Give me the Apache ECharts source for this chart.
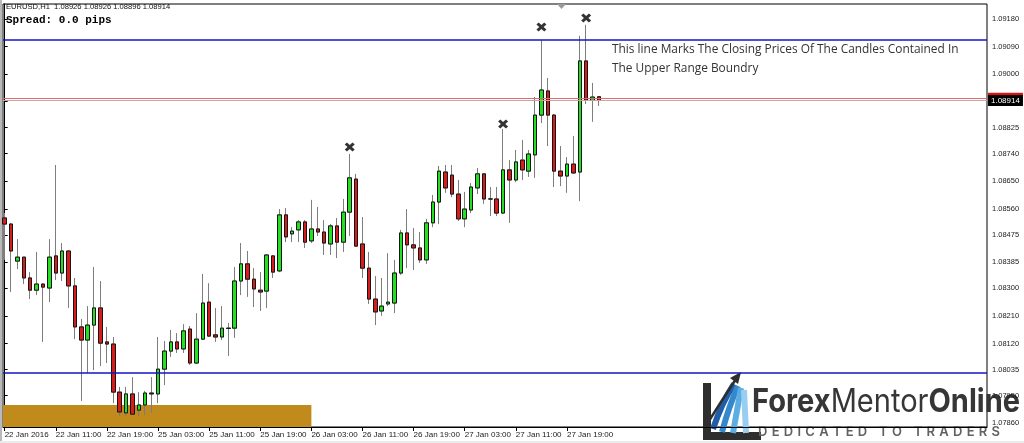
<!DOCTYPE html>
<html>
<head>
<meta charset="utf-8">
<script src="https://cdn.jsdelivr.net/npm/echarts@6/dist/echarts.min.js"></script>
<style>
html,body{margin:0;padding:0;background:#fff;overflow:hidden}
#chart{width:1024px;height:443px}
</style>
</head>
<body>
<div id="chart"></div>
<script>
// EURUSD H1, 22 Jan 2016 03:00 -> 28 Jan 2016 00:00 (94 hourly bars)
const symbolName = 'EURUSD,H1';
const spreadText = 'Spread: 0.0 pips';

const opens = [
  1.08530,1.08510,1.08389,1.08402,1.08334,1.08294,1.08314,1.08301,1.08406,1.08350,
  1.08422,1.08308,1.08174,1.08131,1.08180,1.08236,1.08125,1.08118,1.07961,1.07893,
  1.07955,1.07902,1.07919,1.07958,1.07955,1.08036,1.08095,1.08125,1.08102,1.08167,
  1.08056,1.08134,1.08255,1.08148,1.08141,1.08170,1.08170,1.08324,1.08380,1.08330,
  1.08294,1.08291,1.08406,1.08357,1.08540,1.08478,1.08491,1.08517,1.08455,1.08494,
  1.08484,1.08445,1.08504,1.08451,1.08549,1.08657,1.08445,1.08366,1.08265,1.08226,
  1.08249,1.08252,1.08350,1.08481,1.08442,1.08432,1.08393,1.08514,1.08582,1.08680,
  1.08670,1.08608,1.08527,1.08556,1.08628,1.08674,1.08592,1.08592,1.08546,1.08687,
  1.08654,1.08719,1.08683,1.08736,1.08866,1.08945,1.08866,1.08683,1.08667,1.08706,
  1.08680,1.09043,1.08914,1.08926
];
const closes = [
  1.08510,1.08422,1.08402,1.08334,1.08294,1.08314,1.08304,1.08402,1.08350,1.08422,
  1.08308,1.08174,1.08131,1.08180,1.08236,1.08121,1.08118,1.07961,1.07896,1.07955,
  1.07889,1.07919,1.07958,1.07955,1.08036,1.08095,1.08125,1.08102,1.08161,1.08056,
  1.08134,1.08252,1.08144,1.08141,1.08170,1.08169,1.08324,1.08380,1.08330,1.08298,
  1.08288,1.08409,1.08353,1.08540,1.08468,1.08487,1.08517,1.08451,1.08494,1.08484,
  1.08448,1.08504,1.08451,1.08549,1.08661,1.08438,1.08366,1.08265,1.08223,1.08242,
  1.08255,1.08350,1.08481,1.08442,1.08432,1.08393,1.08514,1.08582,1.08683,1.08628,
  1.08608,1.08527,1.08559,1.08631,1.08674,1.08592,1.08592,1.08546,1.08687,1.08654,
  1.08713,1.08687,1.08739,1.08866,1.08948,1.08866,1.08683,1.08667,1.08706,1.08677,
  1.09043,1.08915,1.08925,1.08914
];
const lows = [
  1.08393,1.08288,1.08363,1.08314,1.08265,1.08278,1.08125,1.08255,1.08327,1.08324,
  1.08236,1.08134,1.07932,1.08023,1.08033,1.08046,1.08056,1.07925,1.07883,1.07883,
  1.07886,1.07883,1.07886,1.07893,1.07925,1.07984,1.08076,1.08089,1.08089,1.08050,
  1.08053,1.08131,1.08141,1.08125,1.08131,1.08079,1.08138,1.08278,1.08272,1.08239,
  1.08226,1.08236,1.08334,1.08353,1.08451,1.08451,1.08451,1.08432,1.08448,1.08471,
  1.08409,1.08409,1.08399,1.08419,1.08471,1.08435,1.08334,1.08249,1.08180,1.08210,
  1.08242,1.08219,1.08344,1.08366,1.08360,1.08383,1.08380,1.08500,1.08510,1.08612,
  1.08598,1.08520,1.08500,1.08546,1.08608,1.08576,1.08536,1.08536,1.08543,1.08514,
  1.08647,1.08654,1.08664,1.08661,1.08840,1.08765,1.08631,1.08634,1.08612,1.08674,
  1.08585,1.08902,1.08844,1.08896
];
const highs = [
  1.08546,1.08514,1.08461,1.08402,1.08353,1.08419,1.08317,1.08461,1.08703,1.08448,
  1.08425,1.08334,1.08200,1.08242,1.08370,1.08324,1.08174,1.08141,1.07978,1.07978,
  1.08010,1.07961,1.07965,1.08010,1.08141,1.08128,1.08164,1.08154,1.08183,1.08177,
  1.08219,1.08347,1.08317,1.08236,1.08242,1.08187,1.08370,1.08448,1.08422,1.08366,
  1.08353,1.08412,1.08409,1.08559,1.08562,1.08500,1.08523,1.08523,1.08589,1.08566,
  1.08523,1.08510,1.08530,1.08592,1.08739,1.08674,1.08533,1.08419,1.08340,1.08334,
  1.08415,1.08393,1.08491,1.08559,1.08497,1.08484,1.08527,1.08605,1.08700,1.08703,
  1.08703,1.08654,1.08615,1.08644,1.08693,1.08674,1.08631,1.08631,1.08821,1.08719,
  1.08752,1.08785,1.08752,1.08925,1.09111,1.08987,1.08870,1.08765,1.08729,1.08798,
  1.09125,1.09161,1.08971,1.08926
];

// time axis labels (bar index -> label)
const timeTickBars = [0, 8, 16, 24, 32, 40, 48, 56, 64, 72, 80, 88];
const timeTickLabels = ['22 Jan 2016', '22 Jan 11:00', '22 Jan 19:00', '25 Jan 03:00', '25 Jan 11:00',
  '25 Jan 19:00', '26 Jan 03:00', '26 Jan 11:00', '26 Jan 19:00', '27 Jan 03:00', '27 Jan 11:00', '27 Jan 19:00'];

// price scale labels
const priceTicks = [1.09180, 1.09090, 1.09000, 1.08910, 1.08825, 1.08740, 1.08650, 1.08560,
  1.08475, 1.08385, 1.08300, 1.08210, 1.08120, 1.08035, 1.07950, 1.07860];

// drawn objects
const upperBoundary = 1.09111;
const lowerBoundary = 1.08023;
const bidPrice = 1.08914;
const askPrice = 1.08921;
const swingBars = [54, 78, 84, 91];
const swingMarkPrices = [1.08762, 1.08837, 1.09154, 1.09183];
const zoneTop = 1.07919;
const zoneEndBar = 48;
const noteLines = ['This line Marks The Closing Prices Of The Candles Contained In', 'The Upper Range Boundry'];

const xMin = -0.26, xMax = 153.73;
const yMin = 1.07847, yMax = 1.09229;

const last = opens.length - 1;
const headerText = symbolName + '  ' + [opens[last], highs[last], lows[last], closes[last]].map(v => v.toFixed(5)).join(' ');

const wickRows = opens.map((o, i) => [i, o, closes[i], lows[i], highs[i]]);
const bodyRows = opens.map((o, i) => [i, o, closes[i], Math.min(o, closes[i]), Math.max(o, closes[i])]);
const markRows = swingBars.map((b, i) => [b, swingMarkPrices[i]]);

const UP = '#23e023', DOWN = '#d81c1c';
const axisFont = 'Liberation Sans';

// logo text helpers
const mc = document.createElement('canvas').getContext('2d');
function tw(str, font) { mc.font = font; return mc.measureText(str).width; }

function curve(x1, y1, cx, cy, x2, y2, color, w) {
  return { type: 'bezierCurve', shape: { x1: x1, y1: y1, cpx1: cx, cpy1: cy, x2: x2, y2: y2 },
    style: { stroke: color, lineWidth: w, fill: null } };
}

function buildLogo() {
  const els = [];
  // L-shaped frame
  els.push({ type: 'rect', shape: { x: 703, y: 383, width: 8, height: 57 }, style: { fill: '#2e2e2e' } });
  els.push({ type: 'rect', shape: { x: 703, y: 432, width: 58, height: 8 }, style: { fill: '#2e2e2e' } });
  // blue ribbon bands
  els.push(curve(713, 429, 722, 402, 734, 384, '#1f5ea6', 6));
  els.push(curve(722, 432, 729, 406, 738, 386, '#3489cc', 6));
  els.push(curve(733, 433, 737, 410, 741, 388, '#5aaee3', 6));
  els.push(curve(746, 433, 745, 412, 744, 390, '#98cff0', 6));
  // arrow
  els.push(curve(707, 424, 722, 400, 736, 379, '#2e2e2e', 2.5));
  els.push({ type: 'polygon', shape: { points: [[741, 372], [738, 384], [730, 378]] }, style: { fill: '#2e2e2e' } });

  // word mark
  const size = 32;
  const fBold = 'bold ' + size + 'px Inter', fReg = size + 'px Inter';
  const parts = [['Forex', fBold], ['Mentor', fReg], ['Online', fBold]];
  const total = parts.reduce((s, p) => s + tw(p[0], p[1]), 0);
  const sx = 268 / total;
  let cx = 0;
  const word = [];
  parts.forEach(p => {
    word.push({ type: 'text', x: cx, y: 0, style: { text: p[0], font: p[1], fill: '#363636', verticalAlign: 'middle' } });
    cx += tw(p[0], p[1]);
  });
  els.push({ type: 'group', x: 752, y: 402, scaleX: sx, scaleY: 1, children: word });

  // tagline, letter-spaced
  const tag = 'DEDICATED TO TRADERS';
  const tf = '600 13px Inter';
  const chars = tag.split('');
  const natural = chars.reduce((s, c) => s + tw(c, tf), 0);
  const gap = (242 - natural) / (chars.length - 1);
  let tx = 758;
  chars.forEach(c => {
    els.push({ type: 'text', x: tx, y: 432, style: { text: c, font: tf, fill: '#626262', verticalAlign: 'middle' } });
    tx += tw(c, tf) + gap;
  });
  return els;
}

const chart = echarts.init(document.getElementById('chart'), null, { renderer: 'canvas' });
chart.setOption({
  animation: false,
  backgroundColor: '#ffffff',
  grid: { left: 3, right: 37, top: 4, bottom: 16, show: true, borderColor: '#000', borderWidth: 1, backgroundColor: 'transparent' },
  xAxis: {
    type: 'value', min: xMin, max: xMax,
    splitLine: { show: false },
    axisLine: { show: true, lineStyle: { color: '#000', width: 1 } },
    axisTick: { show: true, customValues: timeTickBars, length: 4, lineStyle: { color: '#000' } },
    axisLabel: {
      customValues: timeTickBars, align: 'left', margin: 4, padding: [0, 0, 0, 0],
      fontFamily: axisFont, fontSize: 8, color: '#1a1a1a',
      formatter: v => timeTickLabels[timeTickBars.indexOf(Math.round(v))] || ''
    }
  },
  yAxis: {
    type: 'value', position: 'right', min: yMin, max: yMax, scale: true,
    splitLine: { show: false },
    axisLine: { show: true, lineStyle: { color: '#000', width: 1 } },
    axisTick: { show: true, customValues: priceTicks, length: 3, lineStyle: { color: '#000' } },
    axisLabel: {
      customValues: priceTicks, margin: 5, fontFamily: axisFont, fontSize: 7.5, color: '#1a1a1a',
      formatter: v => v.toFixed(5)
    }
  },
  series: [
    {
      // support zone rectangle, drawn under the candles
      type: 'line', data: [], z: 1, silent: true,
      markArea: {
        silent: true, precision: 5,
        itemStyle: { color: '#c08b1c', opacity: 1 },
        data: [[{ xAxis: xMin, yAxis: zoneTop }, { xAxis: zoneEndBar, yAxis: yMin }]]
      }
    },
    {
      // wicks
      type: 'candlestick', z: 2, barWidth: 4, encode: { x: 0, y: [1, 2, 3, 4] },
      data: wickRows,
      itemStyle: { color: UP, color0: DOWN, borderColor: '#7d7d7d', borderColor0: '#7d7d7d', borderWidth: 1 }
    },
    {
      // bodies with dark outline
      type: 'candlestick', z: 3, barWidth: 4, encode: { x: 0, y: [1, 2, 3, 4] },
      data: bodyRows,
      itemStyle: { color: UP, color0: DOWN, borderColor: '#151515', borderColor0: '#151515', borderWidth: 1 }
    },
    {
      // swing high crosses
      type: 'scatter', z: 4, data: markRows,
      symbol: 'path://M0,2.2 L2.2,0 L5,2.8 L7.8,0 L10,2.2 L7.2,5 L10,7.8 L7.8,10 L5,7.2 L2.2,10 L0,7.8 L2.8,5 Z',
      symbolSize: [10, 9],
      itemStyle: { color: '#000' }
    },
    {
      // horizontal levels and price markers
      type: 'line', data: [], z: 5, silent: true,
      markLine: {
        silent: true, symbol: ['none', 'none'], animation: false, precision: 5,
        data: [
          { yAxis: upperBoundary, lineStyle: { color: '#1414c8', width: 1.6, type: 'solid' }, label: { show: false } },
          { yAxis: lowerBoundary, lineStyle: { color: '#1414c8', width: 1.6, type: 'solid' }, label: { show: false } },
          { yAxis: askPrice, lineStyle: { color: '#e26a6a', width: 1, type: 'solid' },
            label: { show: true, position: 'end', distance: 1, formatter: askPrice.toFixed(5), backgroundColor: '#e01010', color: '#e01010',
              fontFamily: axisFont, fontSize: 8, padding: [2, 3, 1, 3] } },
          { yAxis: bidPrice, lineStyle: { color: '#c9a3a3', width: 1, type: 'solid' },
            label: { show: true, position: 'end', distance: 1, formatter: bidPrice.toFixed(5), backgroundColor: '#000', color: '#fff',
              fontFamily: axisFont, fontSize: 8, padding: [2, 3, 1, 3] } }
        ]
      }
    }
  ],
  graphic: [
    { type: 'rect', shape: { x: 0, y: 0, width: 2, height: 443 }, style: { fill: '#b9b9b9' }, z: 0 },
    { type: 'rect', shape: { x: 0, y: 441, width: 1024, height: 2 }, style: { fill: '#ebebeb' }, z: 0 },
    { type: 'text', left: 6, top: 3, style: { text: headerText, font: '7.6px Liberation Sans', fill: '#111' } },
    { type: 'text', left: 6, top: 15, style: { text: spreadText, font: 'bold 11px Liberation Mono', fill: '#000' } },
    { type: 'text', left: 612, top: 44, style: { text: noteLines[0], font: '11.9px "Open Sans"', fill: '#333' } },
    { type: 'text', left: 612, top: 63, style: { text: noteLines[1], font: '11.9px "Open Sans"', fill: '#333' } },
    { type: 'polygon', shape: { points: [[557, 4], [566, 4], [561.5, 9]] }, style: { fill: '#9a9a9a' } },
    ...buildLogo()
  ]
});
</script>
</body>
</html>
